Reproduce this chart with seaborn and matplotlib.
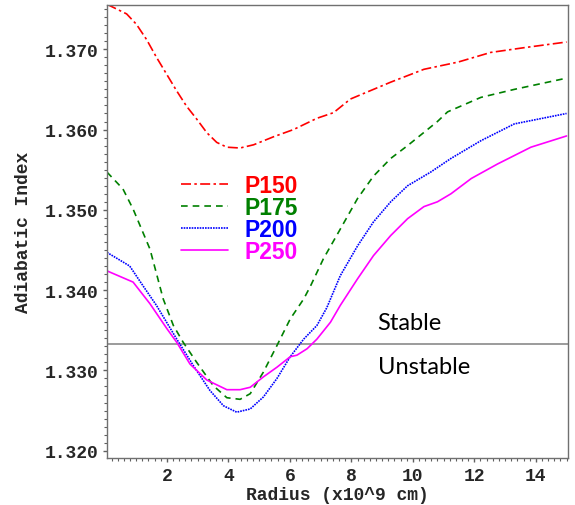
import pandas as pd
import seaborn as sns
import matplotlib.pyplot as plt
from matplotlib.ticker import MultipleLocator, FormatStrFormatter

# Radius (x10^9 cm) and adiabatic index
x_p150 = [0.05, 0.69, 1.01, 1.34, 1.66, 1.99, 2.32, 2.64, 2.97, 3.30, 3.62, 3.95, 4.38, 4.82,
          5.47, 6.12, 6.88, 7.42, 7.97, 9.28, 10.36, 11.47, 12.53, 13.63, 15.0]
y_p150 = [1.3756, 1.3744, 1.3731, 1.3712, 1.3690, 1.3669, 1.3648, 1.3629, 1.3613, 1.3596,
          1.3584, 1.3578, 1.3577, 1.3581, 1.3591, 1.3600, 1.3614, 1.3621, 1.3638, 1.3659,
          1.3675, 1.3684, 1.3696, 1.3702, 1.3709]

x_p175 = [0.05, 0.57, 0.9, 1.45, 1.88, 2.21, 2.53, 2.97, 3.51, 3.95, 4.38, 4.71, 5.14, 5.58,
          6.01, 6.45, 6.67, 7.09, 7.64, 8.2, 8.72, 9.28, 9.83, 10.8, 11.13, 12.21, 13.30, 15.0]
y_p175 = [1.3547, 1.3526, 1.3501, 1.3451, 1.3389, 1.3356, 1.3335, 1.3310, 1.3281, 1.3266,
          1.3264, 1.3271, 1.3298, 1.3331, 1.3364, 1.3389, 1.3405, 1.3439, 1.3476, 1.3514,
          1.3542, 1.3564, 1.3580, 1.3610, 1.3622, 1.3640, 1.3650, 1.3664]

x_p200 = [0.05, 0.79, 1.23, 1.66, 2.32, 2.86, 3.40, 3.84, 4.27, 4.71, 5.14, 5.58, 6.01, 6.45,
          6.88, 7.2, 7.64, 8.2, 8.72, 9.28, 9.83, 10.58, 11.24, 12.21, 13.30, 15.0]
y_p200 = [1.3447, 1.3430, 1.3405, 1.3381, 1.3339, 1.3306, 1.3275, 1.3256, 1.3248, 1.3252,
          1.3267, 1.3290, 1.3317, 1.3339, 1.3356, 1.3378, 1.3418, 1.3455, 1.3485, 1.3510,
          1.3530, 1.3547, 1.3564, 1.3586, 1.3607, 1.3620]

x_p250 = [0.05, 0.9, 1.45, 2.0, 2.32, 2.75, 3.30, 3.95, 4.38, 4.71, 5.14, 5.58, 6.01, 6.23,
          6.56, 6.88, 7.32, 7.64, 8.2, 8.72, 9.28, 9.83, 10.36, 10.8, 11.24, 11.9, 12.75,
          13.84, 15.0]
y_p250 = [1.3424, 1.3410, 1.3383, 1.3352, 1.3335, 1.3308, 1.3288, 1.3276, 1.3276, 1.3279,
          1.3292, 1.3304, 1.3317, 1.3319, 1.3327, 1.3339, 1.3360, 1.3381, 1.3414, 1.3443,
          1.3468, 1.3489, 1.3504, 1.3510, 1.3520, 1.3539, 1.3557, 1.3578, 1.3592]

models = ['P150', 'P175', 'P200', 'P250']
gamma_crit = 4 / 3

frames = []
for name, xs, ys in zip(models, [x_p150, x_p175, x_p200, x_p250],
                        [y_p150, y_p175, y_p200, y_p250]):
    frames.append(pd.DataFrame({'radius': xs, 'gamma': ys, 'model': name}))
df = pd.concat(frames, ignore_index=True)

sns.set_style('ticks')
plt.rcParams['font.family'] = ['DejaVu Sans']

fig = plt.figure(figsize=(5.75, 5.06), dpi=100)
ax = fig.add_axes([0.186, 0.093, 0.802, 0.895])

palette = {'P150': '#ff0000', 'P175': '#008000', 'P200': '#0000ff', 'P250': '#ff00ff'}
dashes = {'P150': (6, 2, 1.5, 2), 'P175': (4, 3), 'P200': (1, 0.6), 'P250': ''}
sns.lineplot(data=df, x='radius', y='gamma', hue='model', style='model', palette=palette,
             dashes=dashes, sort=False, estimator=None, linewidth=1.2, ax=ax)

ax.axhline(gamma_crit, color='#808080', lw=1.1, zorder=1)
ax.text(8.85, 1.3352, 'Stable', fontsize=17, color='black', family='Lato')
ax.text(8.88, 1.3297, 'Unstable', fontsize=17, color='black', family='Lato')

ax.set_xlim(0.05, 15.05)
ax.set_ylim(1.3191, 1.3755)
ax.xaxis.set_major_locator(MultipleLocator(2))
ax.xaxis.set_minor_locator(MultipleLocator(0.2))
ax.yaxis.set_major_locator(MultipleLocator(0.01))
ax.yaxis.set_minor_locator(MultipleLocator(0.001))
ax.yaxis.set_major_formatter(FormatStrFormatter('%.3f'))
ax.tick_params(which='major', length=3.2, width=1, color='#606060', pad=3)
ax.tick_params(which='minor', length=2.2, width=0.8, color='#606060')
ax.tick_params(top=False, right=False)
for lab in ax.get_xticklabels() + ax.get_yticklabels():
    lab.set_family('Liberation Mono')
    lab.set_fontweight('bold')
    lab.set_fontsize(13)
for sp in ax.spines.values():
    sp.set_color('#707070')
    sp.set_linewidth(1)

ax.set_xlabel('Radius (x10^9 cm)', family='Liberation Mono', fontweight='bold', fontsize=13,
              labelpad=2)
ax.set_ylabel('Adiabatic Index', family='Liberation Mono', fontweight='bold', fontsize=13,
              labelpad=9)

handles, labels = ax.get_legend_handles_labels()
keep = [(h, l) for h, l in zip(handles, labels) if l in models]
leg = ax.legend([h for h, l in keep], [l for h, l in keep], loc='upper left',
                bbox_to_anchor=(0.116, 0.672), frameon=False, handlelength=2.05,
                handletextpad=0.7, labelspacing=-0.045, labelcolor='linecolor',
                prop={'family': 'Liberation Sans', 'weight': 'bold', 'size': 16.5})

fig.savefig('out.png', dpi=100)
